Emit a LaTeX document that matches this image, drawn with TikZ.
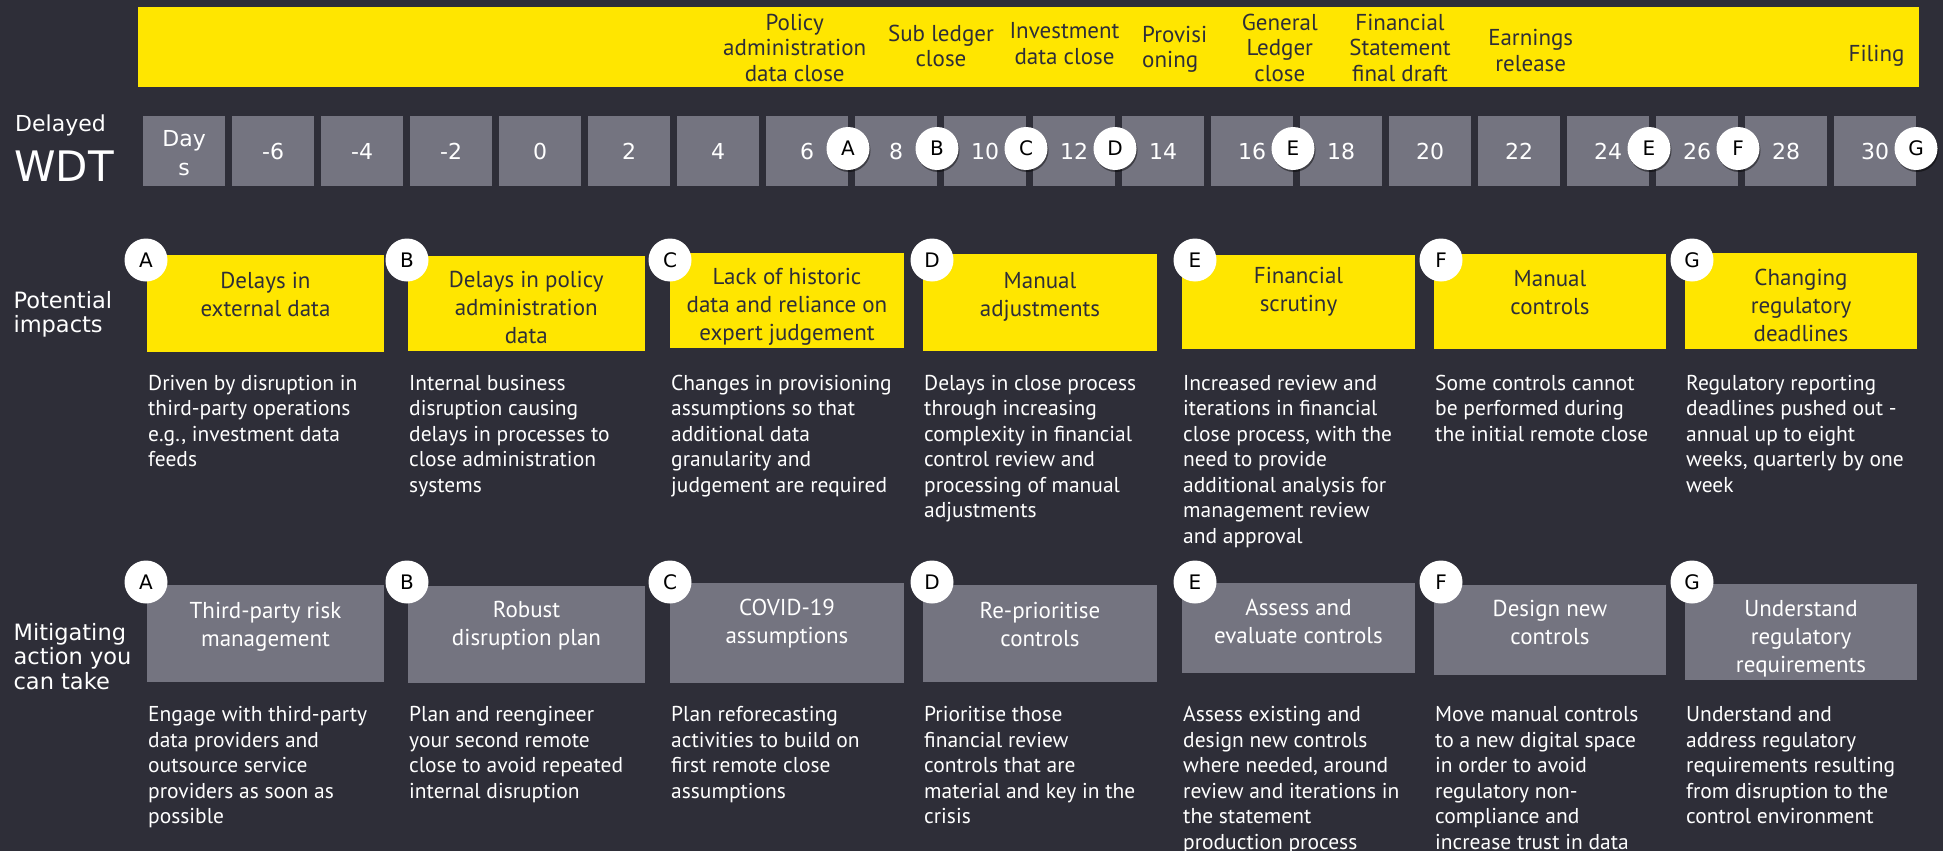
\documentclass[tikz,border=0pt]{standalone}
\usepackage{fontspec}
\setmainfont{PT Sans}
\newfontfamily\labelfont{DejaVu Sans}
\usetikzlibrary{calc,shadows}

\definecolor{bg}{HTML}{2E2E38}
\definecolor{eyyellow}{HTML}{FFE600}
\definecolor{tilegray}{HTML}{747480}
\definecolor{inkdark}{HTML}{2E2E38}

% stacked lines whose baseline is the baseline of the first line
\newcommand\clines[1]{\begin{tabular}[t]{@{}c@{}}#1\end{tabular}}
\newcommand\llines[1]{\begin{tabular}[t]{@{}l@{}}#1\end{tabular}}

\tikzset{
  tile/.style={fill=tilegray, minimum width=81.5pt, minimum height=70pt, inner sep=0pt,
               text=white, font=\labelfont\fontsize{22}{28}\selectfont},
  badge/.style={circle, fill=white, minimum size=43pt, inner sep=0pt,
                text=black, font=\labelfont\fontsize{20}{24}\selectfont},
  dayshadow/.style={drop shadow={shadow xshift=1pt, shadow yshift=-2pt, opacity=.45, fill=black}},
  ybox/.style={fill=eyyellow, inner sep=0pt},
  gbox/.style={fill=tilegray, inner sep=0pt},
  ytitle/.style={anchor=base, inner sep=0pt, text=inkdark, font=\fontsize{23}{28.3}\selectfont},
  gtitle/.style={anchor=base, inner sep=0pt, text=white, font=\fontsize{23}{28.3}\selectfont},
  desc/.style={anchor=base west, inner sep=0pt, text=white, font=\fontsize{21.5}{25.5}\selectfont},
  blab/.style={anchor=base, inner sep=0pt, text=inkdark, font=\fontsize{23}{25.3}\selectfont},
  rowlab/.style={anchor=base west, inner sep=0pt, text=white, font=\labelfont\fontsize{22.5}{24.5}\selectfont},
}

\begin{document}
\begin{tikzpicture}[x=1pt,y=-1pt]
  % canvas
  \fill[bg] (0,0) rectangle (1943,851);
  \useasboundingbox (0,0) rectangle (1943,851);

  % milestone banner
  \node[ybox, minimum width=1781.5pt, minimum height=80pt] (banner) at (1028.25,47) {};
  \node[blab] (m1) at (794.7,30.5) {\clines{Policy\\administration\\data close}};
  \node[blab] (m2) at (941,41.7) {\clines{Sub ledger\\close}};
  \node[blab] (m3) at (1064.5,38.8) {\clines{Investment\\data close}};
  \node[blab, anchor=base west] (m4) at (1142,42.7) {\llines{Provisi\\oning}};
  \node[blab] (m5) at (1279.8,30.5) {\clines{General\\Ledger\\close}};
  \node[blab] (m6) at (1400,30.5) {\clines{Financial\\Statement\\final draft}};
  \node[blab] (m7) at (1530.7,46) {\clines{Earnings\\release}};
  \node[blab] (m8) at (1876.6,62) {Filing};

  % row labels
  \node[rowlab, font=\labelfont\fontsize{22}{26}\selectfont] (lblDelayed) at (15,131.7) {Delayed};
  \node[rowlab, font=\labelfont\fontsize{42}{46}\selectfont] (lblWDT) at (14,181.7) {WDT};
  \node[rowlab] (lblImpacts) at (13.3,308.3) {\llines{Potential\\impacts}};
  \node[rowlab] (lblActions) at (13.4,640) {\llines{Mitigating\\action you\\can take}};

  % working-day tiles
  \node[tile] (t0) at (184.05,151) {};
  \node[anchor=base, inner sep=0pt, text=white, font=\labelfont\fontsize{22}{29}\selectfont] (t0lab)
       at (184.05,146) {\clines{Day\\s}};
  \foreach \i in {1,...,19}{
    \pgfmathtruncatemacro{\dayval}{2*\i-8}
    \node[tile] (t\i) at ({184.05+89*\i},151) {\dayval};
  }

  % milestone markers on the tile row
  \foreach \t/\l in {7/A,8/B,9/C,10/D,12/E,16/E,17/F,19/G}{
    \node[badge, dayshadow] (d\t) at ($(t\t.east)+(0,-2.5)$) {\l};
  }

  % potential impacts
  \node[ybox, minimum width=237pt,   minimum height=96.7pt] (ia) at (265.5,303.35) {};
  \node[ybox, minimum width=236.6pt, minimum height=94.7pt] (ib) at (526.3,303.35) {};
  \node[ybox, minimum width=234pt,   minimum height=94.4pt] (ic) at (787,300.5) {};
  \node[ybox, minimum width=234pt,   minimum height=96.7pt] (id) at (1040,302.35) {};
  \node[ybox, minimum width=233pt,   minimum height=94pt]   (ie) at (1298.5,302) {};
  \node[ybox, minimum width=232pt,   minimum height=95pt]   (if) at (1550,301.5) {};
  \node[ybox, minimum width=232pt,   minimum height=96pt]   (ig) at (1801,301) {};

  \node[ytitle] (ita) at (ia.center |- 0,288.3) {\clines{Delays in\\external data}};
  \node[ytitle] (itb) at (ib.center |- 0,287.3) {\clines{Delays in policy\\administration\\data}};
  \node[ytitle] (itc) at (ic.center |- 0,284.3) {\clines{Lack of historic\\data and reliance on\\expert judgement}};
  \node[ytitle] (itd) at (id.center |- 0,288.3) {\clines{Manual\\adjustments}};
  \node[ytitle] (ite) at (ie.center |- 0,283.3) {\clines{Financial\\scrutiny}};
  \node[ytitle] (itf) at (if.center |- 0,286.6) {\clines{Manual\\controls}};
  \node[ytitle] (itg) at (ig.center |- 0,285) {\clines{Changing\\regulatory\\deadlines}};

  \node[badge] (iba) at (146,260) {A};
  \node[badge] (ibb) at (407,260) {B};
  \node[badge] (ibc) at (670,260) {C};
  \node[badge] (ibd) at (932,260) {D};
  \node[badge] (ibe) at (1195,260) {E};
  \node[badge] (ibf) at (1441,260) {F};
  \node[badge] (ibg) at (1692,260) {G};

  \node[desc] (ida) at (148,390) {\llines{Driven by disruption in\\third-party operations\\e.g., investment data\\feeds}};
  \node[desc] (idb) at (409,390) {\llines{Internal business\\disruption causing\\delays in processes to\\close administration\\systems}};
  \node[desc] (idc) at (671,390) {\llines{Changes in provisioning\\assumptions so that\\additional data\\granularity and\\judgement are required}};
  \node[desc] (idd) at (924,390) {\llines{Delays in close process\\through increasing\\complexity in financial\\control review and\\processing of manual\\adjustments}};
  \node[desc] (ide) at (1183,390) {\llines{Increased review and\\iterations in financial\\close process, with the\\need to provide\\additional analysis for\\management review\\and approval}};
  \node[desc] (idf) at (1435,390) {\llines{Some controls cannot\\be performed during\\the initial remote close}};
  \node[desc] (idg) at (1686,390) {\llines{Regulatory reporting\\deadlines pushed out -\\annual up to eight\\weeks, quarterly by one\\week}};

  % mitigating actions
  \node[gbox, minimum width=237pt, minimum height=96.7pt] (ma) at (265.5,633.35) {};
  \node[gbox, minimum width=237pt, minimum height=96.7pt] (mb) at (526.5,634.35) {};
  \node[gbox, minimum width=234pt, minimum height=99.4pt] (mc) at (787,633) {};
  \node[gbox, minimum width=234pt, minimum height=96.4pt] (md) at (1040,633.5) {};
  \node[gbox, minimum width=233pt, minimum height=89.4pt] (me) at (1298.5,628) {};
  \node[gbox, minimum width=232pt, minimum height=89.7pt] (mf) at (1550,630.15) {};
  \node[gbox, minimum width=232pt, minimum height=95.7pt] (mg) at (1801,632.15) {};

  \node[gtitle] (mta) at (ma.center |- 0,618.3) {\clines{Third-party risk\\management}};
  \node[gtitle] (mtb) at (mb.center |- 0,617.3) {\clines{Robust\\disruption plan}};
  \node[gtitle] (mtc) at (mc.center |- 0,615) {\clines{COVID-19\\assumptions}};
  \node[gtitle] (mtd) at (md.center |- 0,618.3) {\clines{Re-prioritise\\controls}};
  \node[gtitle] (mte) at (me.center |- 0,615) {\clines{Assess and\\evaluate controls}};
  \node[gtitle] (mtf) at (mf.center |- 0,616.6) {\clines{Design new\\controls}};
  \node[gtitle] (mtg) at (mg.center |- 0,616) {\clines{Understand\\regulatory\\requirements}};

  \node[badge] (mba) at (146,582) {A};
  \node[badge] (mbb) at (407,582) {B};
  \node[badge] (mbc) at (670,582) {C};
  \node[badge] (mbd) at (932,582) {D};
  \node[badge] (mbe) at (1195,582) {E};
  \node[badge] (mbf) at (1441,582) {F};
  \node[badge] (mbg) at (1692,582) {G};

  \node[desc] (mda) at (148,721.5) {\llines{Engage with third-party\\data providers and\\outsource service\\providers as soon as\\possible}};
  \node[desc] (mdb) at (409,721.5) {\llines{Plan and reengineer\\your second remote\\close to avoid repeated\\internal disruption}};
  \node[desc] (mdc) at (671,721.5) {\llines{Plan reforecasting\\activities to build on\\first remote close\\assumptions}};
  \node[desc] (mdd) at (924,721.5) {\llines{Prioritise those\\financial review\\controls that are\\material and key in the\\crisis}};
  \node[desc] (mde) at (1183,721.5) {\llines{Assess existing and\\design new controls\\where needed, around\\review and iterations in\\the statement\\production process}};
  \node[desc] (mdf) at (1435,721.5) {\llines{Move manual controls\\to a new digital space\\in order to avoid\\regulatory non-\\compliance and\\increase trust in data}};
  \node[desc] (mdg) at (1686,721.5) {\llines{Understand and\\address regulatory\\requirements resulting\\from disruption to the\\control environment}};
\end{tikzpicture}
\end{document}
